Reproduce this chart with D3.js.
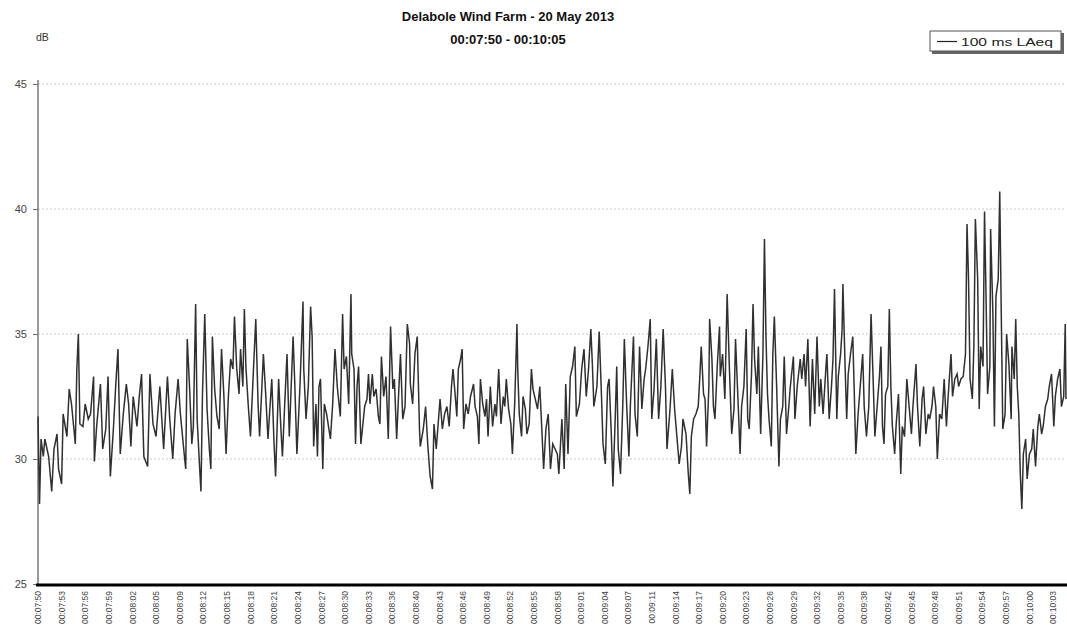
<!DOCTYPE html>
<html>
<head>
<meta charset="utf-8">
<script src="https://cdn.jsdelivr.net/npm/d3@7"></script>
<style>
  html, body { margin: 0; padding: 0; background: #fff; }
  svg { display: block; }
</style>
</head>
<body>
<svg id="chart" width="1067" height="644"></svg>
<script>
// ---- DATA ----
const titleLines = ["Delabole Wind Farm - 20 May 2013", "00:07:50 - 00:10:05"];
const seriesName = "100 ms LAeq";
const yUnit = "dB";
const yTicks = [25, 30, 35, 40, 45];
const xTickLabels = ["00:07:50","00:07:53","00:07:56","00:07:59","00:08:02","00:08:05","00:08:09","00:08:12","00:08:15","00:08:18","00:08:21","00:08:24","00:08:27","00:08:30","00:08:33","00:08:36","00:08:40","00:08:43","00:08:46","00:08:49","00:08:52","00:08:55","00:08:58","00:09:01","00:09:04","00:09:07","00:09:11","00:09:14","00:09:17","00:09:20","00:09:23","00:09:26","00:09:29","00:09:32","00:09:35","00:09:38","00:09:42","00:09:45","00:09:48","00:09:51","00:09:54","00:09:57","00:10:00","00:10:03"];
const xTickStepSec = 3.1;
const durationSec = 135;

// seconds after 00:07:50
const seconds = [0.0,0.2,0.4,0.7,0.9,1.4,1.8,2.1,2.5,2.7,3.1,3.3,3.8,4.1,4.4,4.9,5.1,5.3,5.5,5.9,
6.2,6.6,6.9,7.3,7.4,7.7,8.2,8.5,8.9,9.2,9.5,9.9,10.2,10.5,10.8,11.2,11.6,11.9,12.2,12.5,
13.0,13.3,13.6,13.9,14.4,14.7,15.1,15.5,16.0,16.5,17.0,17.3,17.7,18.0,18.4,18.7,19.2,19.4,19.6,19.9,
20.2,20.4,20.7,20.9,21.2,21.4,21.6,21.9,22.2,22.5,22.7,22.9,23.2,23.5,23.8,24.1,24.4,24.7,25.0,25.3,
25.6,25.8,26.1,26.4,26.6,26.9,27.1,27.3,27.6,27.9,28.3,28.6,28.9,29.1,29.6,29.9,30.2,30.7,31.0,31.2,
31.6,31.9,32.1,32.4,32.7,33.0,33.5,33.7,34.0,34.4,34.8,34.9,35.2,35.5,35.8,36.0,36.2,36.5,36.7,36.9,
37.1,37.4,37.6,37.9,38.2,38.4,38.7,39.0,39.3,39.7,40.0,40.2,40.5,40.8,41.1,41.2,41.5,41.7,41.9,42.1,
42.4,42.6,42.9,43.2,43.4,43.6,43.9,44.1,44.4,44.7,44.9,45.1,45.4,45.7,46.0,46.3,46.6,46.8,47.1,47.3,
47.6,47.9,48.2,48.5,48.8,48.9,49.2,49.5,49.8,50.1,50.2,50.6,50.9,51.2,51.5,51.8,52.0,52.3,52.6,52.8,
53.1,53.4,53.7,54.0,54.3,54.5,54.8,55.0,55.2,55.5,55.7,55.9,56.2,56.5,56.8,57.2,57.4,57.7,57.9,58.1,
58.4,58.7,58.9,59.1,59.4,59.7,60.0,60.2,60.5,60.8,61.1,61.3,61.5,61.8,62.1,62.3,62.6,62.9,63.0,63.2,
63.5,63.7,64.0,64.2,64.5,64.8,65.0,65.3,65.6,65.9,66.1,66.4,66.7,67.0,67.3,67.6,67.9,68.2,68.4,68.8,
69.1,69.3,69.6,69.9,70.2,70.5,70.7,71.1,71.4,71.7,72.0,72.3,72.6,72.8,73.0,73.4,73.7,74.0,74.2,74.5,
74.8,75.0,75.3,75.5,75.8,76.0,76.2,76.5,76.8,77.0,77.3,77.6,77.8,78.2,78.4,78.7,79.0,79.3,79.6,79.8,
80.1,80.4,80.6,80.9,81.2,81.5,81.8,82.1,82.4,82.6,83.0,83.3,83.6,83.9,84.2,84.5,84.7,85.1,85.4,85.6,
85.8,86.1,86.4,86.7,86.9,87.1,87.4,87.6,87.8,88.1,88.2,88.5,88.7,88.9,89.2,89.5,89.6,89.9,90.2,90.5,
90.8,91.1,91.4,91.6,92.0,92.2,92.4,92.7,93.0,93.2,93.4,93.7,93.9,94.1,94.4,94.6,94.9,95.2,95.4,95.6,
95.8,96.0,96.3,96.5,96.7,97.0,97.3,97.5,97.8,98.0,98.3,98.6,98.8,99.2,99.4,99.7,100.1,100.3,100.6,100.8,
101.1,101.4,101.7,102.0,102.3,102.6,102.8,103.1,103.5,103.6,103.9,104.2,104.4,104.6,104.9,105.1,105.4,105.6,105.7,106.0,
106.2,106.4,106.7,107.0,107.2,107.4,107.7,107.9,108.3,108.5,108.8,109.1,109.4,109.7,109.9,110.2,110.5,110.7,110.9,111.1,
111.3,111.6,111.8,112.0,112.2,112.5,112.7,113.0,113.3,113.5,113.8,114.1,114.4,114.7,114.9,115.3,115.5,115.8,116.1,116.3,
116.6,116.9,117.1,117.4,117.6,117.9,118.1,118.4,118.7,119.0,119.3,119.5,119.9,120.1,120.4,120.7,120.9,121.2,121.5,121.8,
122.0,122.2,122.4,122.7,122.9,123.1,123.4,123.6,123.8,124.1,124.3,124.5,124.7,125.0,125.1,125.4,125.6,125.8,126.1,126.3,
126.5,126.7,127.0,127.2,127.5,127.8,127.9,128.2,128.4,128.6,128.8,129.0,129.2,129.4,129.7,129.9,130.2,130.5,130.7,131.0,
131.3,131.5,131.8,132.0,132.3,132.6,132.8,133.1,133.4,133.6,133.9,134.2,134.4,134.7,134.9,135.0];

const laeq = [31.7,28.2,30.8,30.1,30.8,30.1,28.7,30.4,31.0,29.6,29.0,31.8,30.9,32.8,32.2,30.6,33.6,35.0,31.4,31.3,
32.2,31.6,31.8,33.3,29.9,31.3,33.0,30.4,31.2,33.3,29.3,31.2,32.9,34.4,30.2,31.8,33.0,32.2,30.5,32.5,
31.3,32.5,33.4,30.1,29.7,33.4,31.4,30.9,32.9,30.4,33.3,31.6,30.0,31.8,33.2,31.8,30.2,29.6,34.8,32.9,
30.6,31.3,36.2,31.6,29.8,28.7,32.6,35.8,32.0,30.4,29.6,34.9,32.8,31.7,31.2,34.4,32.6,30.2,32.5,34.0,
33.6,35.7,33.6,32.6,34.4,32.9,36.0,33.7,32.2,30.9,33.6,35.6,32.2,30.9,34.2,32.6,30.8,33.2,30.6,29.3,
33.2,31.2,30.1,32.2,34.2,30.9,34.9,33.2,30.2,32.9,36.3,33.6,31.6,32.9,36.1,34.9,30.5,32.2,30.1,32.9,
33.2,29.6,32.2,31.8,31.2,30.8,32.2,34.4,32.9,31.7,35.8,33.6,34.1,32.2,36.6,34.2,33.6,30.6,32.9,33.7,
30.6,31.2,32.1,32.4,33.4,32.2,33.4,32.5,32.8,31.7,31.4,34.1,32.5,33.3,30.8,35.3,32.8,33.2,30.8,32.2,
34.2,31.6,32.1,35.4,34.6,33.0,32.2,34.2,34.9,31.2,30.5,31.2,32.1,30.5,29.3,28.8,31.4,30.4,31.6,32.4,
31.2,31.8,32.1,31.3,32.9,33.6,32.5,31.7,33.6,34.0,34.4,31.2,32.2,31.8,32.5,33.0,32.1,31.7,30.6,33.2,
32.2,31.7,32.4,30.9,32.9,31.3,32.2,31.7,33.6,31.4,32.5,32.1,33.2,32.0,31.4,30.2,32.2,35.4,33.6,31.8,
30.9,32.5,32.0,31.0,31.4,33.6,32.8,32.4,32.0,32.9,31.6,29.6,31.2,31.8,29.6,30.6,30.4,30.2,29.4,31.6,
29.6,33.0,30.2,33.3,33.7,34.5,31.7,32.2,33.6,34.4,32.5,33.6,35.2,33.8,32.1,32.9,35.1,32.5,30.6,29.8,
32.9,33.2,30.9,28.9,31.6,33.7,30.4,29.4,32.2,34.8,32.2,30.1,32.2,34.9,31.8,30.9,34.5,32.0,33.2,33.6,
34.5,35.6,31.6,32.8,34.8,31.6,32.9,35.2,32.9,30.4,32.0,33.6,32.0,30.9,29.8,30.5,31.6,31.0,29.4,28.6,
30.9,31.6,31.8,32.1,33.2,34.5,32.6,32.4,30.5,32.9,35.6,34.0,32.1,31.6,33.7,35.3,33.3,34.2,32.4,36.6,
33.6,31.0,32.0,34.8,31.8,30.2,32.1,32.9,35.2,31.6,31.2,33.4,36.2,34.0,32.6,34.5,31.0,34.2,38.8,34.9,
32.6,31.6,30.5,34.2,35.7,32.9,29.7,31.6,32.1,34.1,31.0,32.1,32.9,34.1,31.6,32.9,34.0,33.2,34.2,32.9,
34.8,31.3,34.0,31.8,34.9,32.1,33.2,31.8,33.8,34.2,31.6,32.9,34.0,36.8,31.6,33.3,34.2,35.2,37.0,33.6,
31.6,33.4,34.2,34.9,32.6,30.2,31.8,32.6,34.2,32.1,30.9,32.1,35.8,32.9,30.9,32.1,33.3,34.5,31.3,30.6,
32.6,32.9,36.0,32.9,31.3,30.2,31.4,32.6,29.4,31.3,30.9,33.2,32.1,31.0,32.1,33.8,32.1,30.5,32.4,32.9,
31.0,31.8,31.6,32.1,32.9,32.1,30.0,31.8,31.6,33.2,31.3,32.4,34.2,32.5,33.2,33.4,32.9,33.2,33.3,34.2,
39.4,37.2,33.2,32.4,34.5,39.6,37.2,32.0,34.5,33.7,39.9,36.5,32.6,33.7,39.2,35.8,31.3,36.5,37.2,40.7,
35.8,31.2,31.8,35.0,33.8,31.6,34.5,33.2,35.6,32.9,31.8,29.4,28.0,30.2,30.8,29.2,30.2,30.4,31.2,29.7,
31.3,31.8,31.0,31.3,32.1,32.4,32.9,33.4,31.3,32.5,33.2,33.6,32.1,32.5,35.4,32.4];

// ---- LAYOUT ----
const W = 1067, H = 644;
const m = { left: 38, right: 1066, top: 84, bottom: 584 };
const svg = d3.select("#chart");
const FONT = "'Liberation Sans', Arial, sans-serif";

const x = d3.scaleLinear().domain([0, durationSec]).range([m.left, m.right]);
const y = d3.scaleLinear().domain([25, 45]).range([m.bottom, m.top]);

// Title
svg.selectAll("text.title").data(titleLines).enter().append("text")
  .attr("class", "title")
  .attr("x", 508).attr("y", (d, i) => 21 + i * 23)
  .attr("text-anchor", "middle")
  .attr("font-family", FONT).attr("font-weight", "bold").attr("font-size", 13)
  .attr("fill", "#111").text(d => d);

// dB label
svg.append("text").attr("x", 36).attr("y", 41)
  .attr("font-family", FONT).attr("font-size", 10.5).attr("fill", "#333").text(yUnit);

// gridlines (dotted)
svg.append("g").selectAll("line").data(yTicks.filter(v => v > 25)).enter().append("line")
  .attr("x1", m.left).attr("x2", m.right)
  .attr("y1", d => y(d)).attr("y2", d => y(d))
  .attr("stroke", "#c8c8c8").attr("stroke-width", 1).attr("stroke-dasharray", "2,2");

// y axis
const yAxis = d3.axisLeft(y).tickValues(yTicks).tickSize(5).tickSizeOuter(0).tickFormat(d3.format("d"));
const gy = svg.append("g").attr("transform", `translate(${m.left},0)`).call(yAxis);
gy.select(".domain").attr("stroke", "#9a9a9a").attr("stroke-width", 2).attr("d", `M0,${m.top - 4}V${m.bottom}`);
gy.selectAll(".tick line").attr("stroke", "#666");
gy.selectAll(".tick text").attr("font-family", FONT).attr("font-size", 11).attr("fill", "#444").attr("x", -11);

// data line
const line = d3.line().x(d => x(d[0])).y(d => y(d[1]));
const pts = seconds.map((s, i) => [s, laeq[i]]);
svg.append("path").datum(pts)
  .attr("d", line).attr("fill", "none")
  .attr("stroke", "#303030").attr("stroke-width", 1.5).attr("stroke-linejoin", "miter");

// x axis (thick black base line)
const xTickVals = xTickLabels.map((_, i) => i * xTickStepSec);
const xAxis = d3.axisBottom(x).tickValues(xTickVals).tickSize(0).tickFormat((d, i) => xTickLabels[i]);
const gx = svg.append("g").attr("transform", `translate(0,${m.bottom + 1})`).call(xAxis);
gx.select(".domain").attr("stroke", "#000").attr("stroke-width", 3).attr("d", `M${m.left - 2},0H${W}`);
gx.selectAll(".tick text")
  .attr("font-family", FONT).attr("font-size", 8.5).attr("fill", "#444")
  .attr("transform", "rotate(-90)")
  .attr("text-anchor", "end")
  .attr("x", -6).attr("y", 0).attr("dy", "0.32em");

// legend
const lg = svg.append("g").attr("transform", "translate(930,31)");
lg.append("rect").attr("x", 2).attr("y", 2).attr("width", 132).attr("height", 21).attr("fill", "#666");
lg.append("rect").attr("x", 0).attr("y", 0).attr("width", 131).attr("height", 20)
  .attr("fill", "#fff").attr("stroke", "#555").attr("stroke-width", 1);
lg.append("line").attr("x1", 7).attr("x2", 27).attr("y1", 10.5).attr("y2", 10.5)
  .attr("stroke", "#222").attr("stroke-width", 1.2);
lg.append("text").attr("x", 31).attr("y", 14.5)
  .attr("font-family", FONT).attr("font-size", 11).attr("fill", "#222")
  .attr("textLength", 92).attr("lengthAdjust", "spacingAndGlyphs").text(seriesName);
</script>
</body>
</html>
